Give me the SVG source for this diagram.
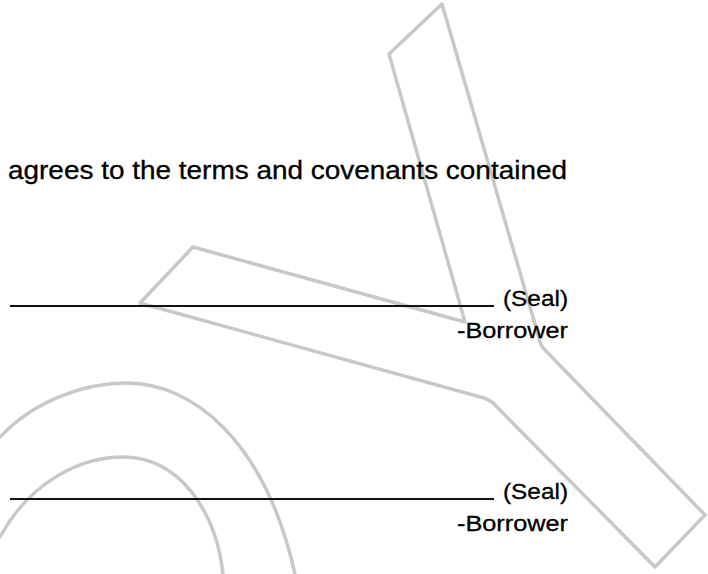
<svg xmlns="http://www.w3.org/2000/svg" width="708" height="574" viewBox="0 0 708 574">
<style>
.wm{fill:none;stroke:#c8c8c8;stroke-width:3.5;stroke-linejoin:round;stroke-linecap:round}
.t{font-family:"Liberation Sans",Arial,Helvetica,sans-serif;fill:#000;stroke:#000;stroke-width:0.3}
.s{font-size:22px;text-anchor:end}
.sig{stroke:#111;stroke-width:2}
</style>
<rect width="708" height="574" fill="#fff"/>
<g id="watermark">
<path class="wm" d="M442,4 L389,54 L465,322 L193,247 L140,303 L484,398 Q492,401 496,406 L655,567 L705,515 L545,350 Q540,345 539,338 Z"/>
<path class="wm" d="M0,437 C35,400 85,383 127,383 C192,383 265,440 295,574"/>
<path class="wm" d="M0,537 C30,482 80,457 123,457 C180,457 216,512 223,574"/>
</g>
<g id="intro">
<text class="t" x="8" y="179" font-size="26.5" textLength="559" lengthAdjust="spacingAndGlyphs">agrees to the terms and covenants contained</text>
</g>
<g id="signature1">
<line class="sig" x1="10" y1="306" x2="494" y2="306"/>
<text class="t s" x="568" y="306" textLength="65" lengthAdjust="spacingAndGlyphs">(Seal)</text>
<text class="t s" x="568" y="338" textLength="111" lengthAdjust="spacingAndGlyphs">-Borrower</text>
</g>
<g id="signature2">
<line class="sig" x1="10" y1="499" x2="494" y2="499"/>
<text class="t s" x="568" y="499" textLength="65" lengthAdjust="spacingAndGlyphs">(Seal)</text>
<text class="t s" x="568" y="531" textLength="111" lengthAdjust="spacingAndGlyphs">-Borrower</text>
</g>
</svg>
